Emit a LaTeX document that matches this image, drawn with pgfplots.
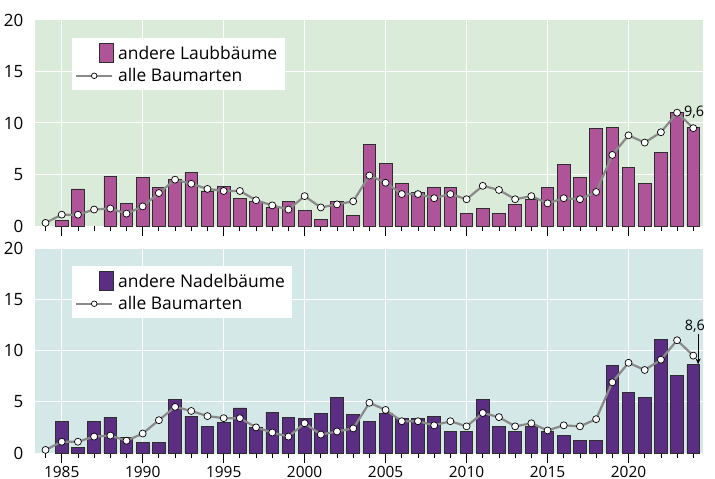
\documentclass[border=0pt]{standalone}
\usepackage{pgfplots}
\pgfplotsset{compat=1.18}
\usepackage{pgfplotstable}
\usepackage{fontspec}
\setmainfont{Open Sans}
\usetikzlibrary{arrows.meta}

\definecolor{bgtop}{HTML}{DBEBD9}
\definecolor{bgbot}{HTML}{D4E8E7}
\definecolor{laub}{HTML}{AF5499}
\definecolor{nadel}{HTML}{5C2E83}
\definecolor{linegray}{HTML}{8A8A8A}
\definecolor{baredge}{HTML}{2E2E2E}

\pgfplotstableread{
year laub
1985 0.5
1986 3.6
1988 4.8
1989 2.2
1990 4.7
1991 3.7
1992 4.5
1993 5.2
1994 3.4
1995 3.8
1996 2.7
1997 2.4
1998 1.8
1999 2.4
2000 1.5
2001 0.6
2002 2.4
2003 1.0
2004 7.9
2005 6.1
2006 4.1
2007 3.3
2008 3.7
2009 3.7
2010 1.2
2011 1.7
2012 1.2
2013 2.1
2014 2.6
2015 3.7
2016 6.0
2017 4.7
2018 9.5
2019 9.6
2020 5.7
2021 4.1
2022 7.1
2023 11.0
2024 9.6
}\laubtable

\pgfplotstableread{
year nadel
1985 3.1
1986 0.5
1987 3.1
1988 3.5
1989 1.5
1990 1.0
1991 1.0
1992 5.2
1993 3.6
1994 2.6
1995 3.0
1996 4.4
1997 2.5
1998 4.0
1999 3.5
2000 3.4
2001 3.9
2002 5.4
2003 3.8
2004 3.1
2005 3.9
2006 3.4
2007 3.4
2008 3.6
2009 2.1
2010 2.1
2011 5.2
2012 2.6
2013 2.1
2014 2.6
2015 2.1
2016 1.7
2017 1.2
2018 1.2
2019 8.5
2020 5.9
2021 5.4
2022 11.1
2023 7.6
2024 8.6
}\nadeltable

\pgfplotstableread{
year alle
1984 0.3
1985 1.1
1986 1.1
1987 1.6
1988 1.7
1989 1.2
1990 1.9
1991 3.2
1992 4.5
1993 4.1
1994 3.6
1995 3.4
1996 3.4
1997 2.5
1998 2.0
1999 1.6
2000 2.9
2001 1.8
2002 2.1
2003 2.4
2004 4.9
2005 4.2
2006 3.1
2007 3.1
2008 2.7
2009 3.1
2010 2.6
2011 3.9
2012 3.5
2013 2.6
2014 2.9
2015 2.2
2016 2.7
2017 2.6
2018 3.3
2019 6.9
2020 8.8
2021 8.1
2022 9.1
2023 11.0
2024 9.5
}\alletable

\pgfplotsset{
  panel/.style={
    scale only axis, width=668bp, height=#1,
    xmin=1983.35, xmax=2024.6, ymin=0, ymax=20,
    clip=false,
    axis line style={draw=none},
    xtick={1985,1990,...,2020},
    minor xtick={1984,1985,...,2024},
    ytick={0,5,10,15,20},
    xtick pos=left,
    tick align=outside,
    major tick length=10bp, minor tick length=5bp,
    xtick style={black, line width=0.8bp},
    ytick style={draw=none},
    grid=major,
    major grid style={white, line width=1bp},
    /pgf/number format/1000 sep={},
    /pgf/number format/assume math mode=true,
    xticklabel style={font=\fontsize{15.5}{17}\selectfont},
    yticklabel style={font=\fontsize{17}{19}\selectfont, inner xsep=1.5bp},
    legend cell align=left,
    legend style={at={(0.0554,0.9126)}, anchor=north west, draw=none, fill=white,
      font=\fontsize{17.5}{20}\selectfont, inner xsep=3bp, inner ysep=4.5bp,
      row sep=3bp, nodes={inner xsep=4.5bp}},
  },
  barstyle/.style={ybar, bar width=0.78, draw=baredge, line width=0.8bp, fill=#1,
    legend image code/.code={\draw[fill=#1, draw=baredge, line width=0.8bp] (23bp,-8bp) rectangle (37bp,11bp);}},
  allestyle/.style={color=linegray, line width=2.2bp, mark=*, mark size=3.5bp,
    mark options={fill=white, draw=black, line width=0.7bp},
    legend image code/.code={\draw[##1, line width=2bp, mark size=2.8bp, mark repeat=2, mark phase=2] plot coordinates {(0bp,0bp) (18bp,0bp) (36bp,0bp)};}},
}

\begin{document}
\begin{tikzpicture}
\begin{axis}[panel=206bp, at={(0bp,0bp)}, anchor=south west,
  axis background/.style={fill=bgtop}, xticklabels={}]
  \addplot[barstyle=laub] table[x=year, y=laub] {\laubtable};
  \addlegendentry{andere Laubbäume}
  \addplot[allestyle] table[x=year, y=alle] {\alletable};
  \addlegendentry{alle Baumarten}
  \node[font=\fontsize{14.5}{17}\selectfont, inner sep=0pt] at (axis cs:2024.05,11.0) {9,6};
\end{axis}
\begin{axis}[panel=205bp, at={(0bp,-227bp)}, anchor=south west,
  axis background/.style={fill=bgbot}]
  \addplot[barstyle=nadel] table[x=year, y=nadel] {\nadeltable};
  \addlegendentry{andere Nadelbäume}
  \addplot[allestyle] table[x=year, y=alle] {\alletable};
  \addlegendentry{alle Baumarten}
  \node[font=\fontsize{14.5}{17}\selectfont, inner sep=0pt] at (axis cs:2024.1,12.35) {8,6};
  \draw[-{Stealth[length=6bp,width=5bp]}, black, line width=0.7bp] (axis cs:2024.3,11.6) -- (axis cs:2024.3,8.65);
\end{axis}
\pgfresetboundingbox
\path[use as bounding box] (-35bp,-253bp) rectangle (680bp,226bp);
\end{tikzpicture}
\end{document}
